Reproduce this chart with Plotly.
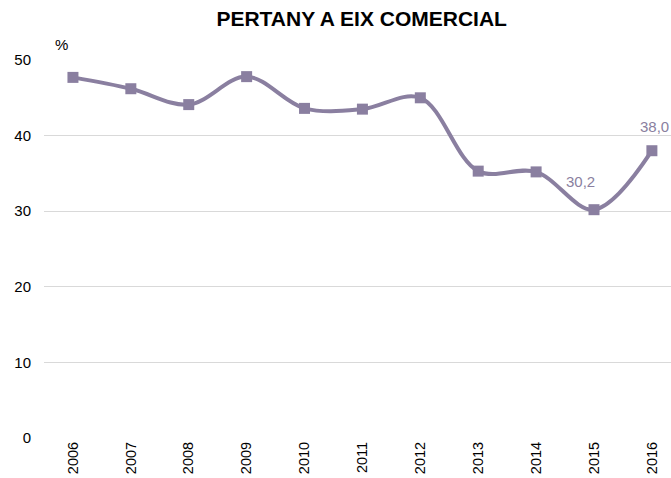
import plotly.graph_objects as go

years = [2006, 2007, 2008, 2009, 2010, 2011, 2012, 2013, 2014, 2015, 2016]
values = [47.7, 46.2, 44.1, 47.8, 43.6, 43.5, 45.0, 35.3, 35.2, 30.2, 38.0]
labelled = {2015: "30,2", 2016: "38,0"}
ytick_vals = [0, 10, 20, 30, 40, 50]

color = "#8a7fa0"
FONT = "Liberation Sans, Arial"

fig = go.Figure()
fig.add_trace(go.Scatter(
    x=years, y=values,
    mode="lines+markers",
    line=dict(color=color, width=4, shape="spline", smoothing=1),
    marker=dict(symbol="square", size=11, color=color),
    cliponaxis=False,
    showlegend=False,
))

shifts = {2015: (-14, 28), 2016: (3, 24)}
annotations = [dict(text="%", xref="paper", yref="paper", x=0.0287, y=1.04,
                    xanchor="center", yanchor="middle", showarrow=False,
                    font=dict(size=15, color="#000", family=FONT))]
for yr, txt in labelled.items():
    v = values[years.index(yr)]
    dx, dy = shifts[yr]
    annotations.append(dict(text=txt, x=yr, y=v, xref="x", yref="y",
                            xshift=dx, yshift=dy, showarrow=False,
                            xanchor="center", yanchor="middle",
                            font=dict(size=15, color=color, family=FONT)))

fig.update_layout(
    width=671, height=478,
    margin=dict(l=44, r=0, t=60, b=40),
    paper_bgcolor="white", plot_bgcolor="white",
    font=dict(family=FONT, color="#000"),
    title=dict(text="<b>PERTANY A EIX COMERCIAL</b>", x=0.539, xanchor="center",
               xref="container", y=0.962, yanchor="middle",
               font=dict(size=21, color="#000", family=FONT)),
    annotations=annotations,
)
fig.update_xaxes(
    range=[2005.5, 2016.33], tickvals=years, ticktext=[str(y) for y in years],
    tickangle=-90, tickfont=dict(size=14.5), showgrid=False, zeroline=False,
    showline=False, ticks="", automargin=False,
)
fig.update_yaxes(
    range=[0, 50], tickvals=ytick_vals, tickfont=dict(size=15),
    showgrid=True, gridcolor="#d9d9d9", gridwidth=1, zeroline=False,
    showline=False, ticks="", ticklabelstandoff=12, automargin=False,
)

fig.write_html(
    "out.html",
    config={"displayModeBar": False},
    post_script="document.body.style.margin='0';document.body.style.overflow='hidden';",
)
